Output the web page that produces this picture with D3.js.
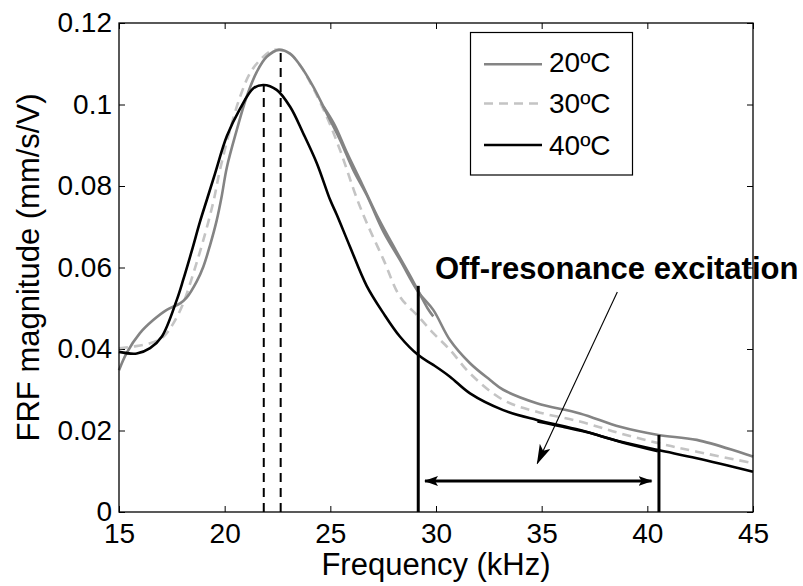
<!DOCTYPE html>
<html>
<head>
<meta charset="utf-8">
<script src="https://cdn.jsdelivr.net/npm/d3@7"></script>
<style>
  html, body { margin: 0; padding: 0; background: #fff; }
  svg { display: block; font-family: "Liberation Sans", Arial, Helvetica, sans-serif; }
</style>
</head>
<body>
<svg id="chart" width="803" height="586"></svg>
<script>
// Frequency response magnitude at three temperatures (kHz, mm/s/V)
const freq20 = [15.00, 15.36, 15.99, 16.62, 17.26, 17.89, 18.20, 18.68, 18.99, 19.31, 19.62, 19.86, 20.10, 20.57, 21.04, 21.52, 21.99, 22.57, 23.09, 23.56, 24.19, 24.83, 25.46, 26.09, 26.72, 27.51, 28.30, 29.16, 29.87, 30.66, 31.61, 32.56, 33.18, 34.77, 36.81, 38.71, 40.52, 42.34, 45.00];
const mag20  = [0.0348, 0.0390, 0.0439, 0.0471, 0.0496, 0.0512, 0.0526, 0.0566, 0.0602, 0.0655, 0.0715, 0.0775, 0.0845, 0.0937, 0.1019, 0.1080, 0.1117, 0.1134, 0.1125, 0.1097, 0.1044, 0.0978, 0.0913, 0.0839, 0.0778, 0.0688, 0.0618, 0.0540, 0.0496, 0.0422, 0.0365, 0.0324, 0.0300, 0.0267, 0.0242, 0.0209, 0.0189, 0.0177, 0.0136];
// second 20ºC band overlapping 24.7–29.9 kHz
const freq20b = [24.67, 25.20, 25.80, 26.50, 27.30, 28.10, 28.90, 29.60, 29.87];
const mag20b  = [0.0995, 0.0950, 0.0880, 0.0805, 0.0718, 0.0642, 0.0568, 0.0500, 0.0480];

const freq30 = [15.00, 15.68, 16.47, 17.10, 17.57, 18.04, 18.52, 18.99, 19.46, 19.78, 20.25, 20.73, 21.20, 21.67, 22.14, 22.57, 23.09, 23.56, 24.19, 24.83, 25.46, 26.25, 26.72, 27.51, 28.30, 29.16, 29.87, 30.66, 31.61, 33.18, 34.77, 36.81, 38.71, 40.52, 42.34, 45.00];
const mag30  = [0.0402, 0.0406, 0.0414, 0.0430, 0.0463, 0.0512, 0.0586, 0.0667, 0.0760, 0.0840, 0.0937, 0.1019, 0.1077, 0.1109, 0.1130, 0.1135, 0.1125, 0.1097, 0.1040, 0.0970, 0.0888, 0.0770, 0.0710, 0.0620, 0.0528, 0.0480, 0.0439, 0.0398, 0.0340, 0.0275, 0.0246, 0.0222, 0.0193, 0.0169, 0.0148, 0.0120];

const freq40 = [15.00, 15.84, 16.47, 17.02, 17.73, 18.04, 18.44, 18.83, 19.15, 19.54, 20.10, 20.73, 21.36, 21.83, 22.46, 23.09, 23.72, 24.36, 24.99, 25.30, 25.93, 26.72, 27.51, 28.30, 29.16, 29.87, 30.66, 31.61, 33.18, 34.77, 36.81, 38.71, 40.52, 42.34, 45.00];
const mag40  = [0.0393, 0.0389, 0.0402, 0.0430, 0.0520, 0.0570, 0.0640, 0.0712, 0.0765, 0.0830, 0.0922, 0.0990, 0.1040, 0.1048, 0.1036, 0.0995, 0.0929, 0.0856, 0.0766, 0.0730, 0.0651, 0.0555, 0.0488, 0.0430, 0.0385, 0.0361, 0.0332, 0.0291, 0.0250, 0.0226, 0.0201, 0.0173, 0.0152, 0.0132, 0.0099];
// second 40ºC band overlapping 34.8–40.5 kHz
const freq40b = [34.80, 36.00, 37.50, 39.00, 40.50];
const mag40b  = [0.0222, 0.0209, 0.0191, 0.0168, 0.0149];

const seriesLabels = ["20ºC", "30ºC", "40ºC"];
const xTicks = [15, 20, 25, 30, 35, 40, 45];
const yTicks = [0, 0.02, 0.04, 0.06, 0.08, 0.1, 0.12];
const yTickLabels = ["0", "0.02", "0.04", "0.06", "0.08", "0.1", "0.12"];

// resonance peaks (dashed markers)
const peakFreqs = [21.85, 22.65];
const peakMags  = [0.1048, 0.1134];
// off-resonance band limits
const bandFreqs = [29.16, 40.55];
const bandTops  = [0.0555, 0.0189];
const bandArrowFreqs = [29.48, 40.2];
const bandArrowMag = 0.0076;
const noteText = "Off-resonance excitation";
const noteAnchor = [29.95, 0.0572];
const noteArrowFrom = [38.58, 0.0540];
const noteArrowTo = [34.79, 0.0119];

const svg = d3.select("#chart");
const L = 119, R = 753, T = 23, B = 512;
const x = d3.scaleLinear().domain([15, 45]).range([L, R]);
const y = d3.scaleLinear().domain([0, 0.12]).range([B, T]);

const tickFont = 28, titleFont = 31;

// axes with inward ticks on all four sides
const gB = svg.append("g").attr("transform", `translate(0,${B})`)
  .call(d3.axisBottom(x).tickValues(xTicks).tickSize(-6).tickPadding(11).tickFormat(d3.format("d")));
const gT = svg.append("g").attr("transform", `translate(0,${T})`)
  .call(d3.axisTop(x).tickValues(xTicks).tickSize(-6).tickFormat(""));
const gL = svg.append("g").attr("transform", `translate(${L},0)`)
  .call(d3.axisLeft(y).tickValues(yTicks).tickSize(-6).tickPadding(7).tickFormat((d, i) => yTickLabels[i]));
const gR = svg.append("g").attr("transform", `translate(${R},0)`)
  .call(d3.axisRight(y).tickValues(yTicks).tickSize(-6).tickFormat(""));
[gB, gT, gL, gR].forEach(g => {
  g.select(".domain").remove();
  g.selectAll(".tick line").attr("stroke", "#000").attr("stroke-width", 1);
  g.selectAll("text").attr("fill", "#000").style("font-size", tickFont + "px")
    .style("font-family", "'Liberation Sans', Arial, sans-serif");
});
gB.selectAll("text").attr("dy", "0.71em");

const plot = svg.append("g");

const line = d3.line()
  .x(d => x(d[0])).y(d => y(d[1]))
  .curve(d3.curveCatmullRom.alpha(0.5));
const zip = (a, b) => a.map((v, i) => [v, b[i]]);

const styles = [
  { color: "#848484", dash: null, width: 2.6 },
  { color: "#c4c4c4", dash: "9,6", width: 2.6 },
  { color: "#000000", dash: null, width: 2.6 }
];

// resonance markers
peakFreqs.forEach((f, i) => {
  plot.append("line")
    .attr("x1", x(f)).attr("x2", x(f))
    .attr("y1", y(0)).attr("y2", y(peakMags[i]))
    .attr("stroke", "#000").attr("stroke-width", 2)
    .attr("stroke-dasharray", "9,6");
});

// curves
const curves = [
  [zip(freq30, mag30), styles[1]],
  [zip(freq20, mag20), styles[0]],
  [zip(freq20b, mag20b), styles[0]],
  [zip(freq40, mag40), styles[2]],
  [zip(freq40b, mag40b), styles[2]]
];
curves.forEach(([pts, s]) => {
  plot.append("path")
    .attr("d", line(pts))
    .attr("fill", "none")
    .attr("stroke", s.color)
    .attr("stroke-width", s.width)
    .attr("stroke-dasharray", s.dash)
    .attr("stroke-linejoin", "round");
});

// off-resonance band limits
bandFreqs.forEach((f, i) => {
  plot.append("line")
    .attr("x1", x(f)).attr("x2", x(f))
    .attr("y1", y(0)).attr("y2", y(bandTops[i]))
    .attr("stroke", "#000").attr("stroke-width", 3);
});

// double-headed band arrow
const defs = svg.append("defs");
defs.append("marker").attr("id", "headEnd")
  .attr("viewBox", "0 0 14 10").attr("refX", 13).attr("refY", 5)
  .attr("markerWidth", 14).attr("markerHeight", 10).attr("markerUnits", "userSpaceOnUse")
  .attr("orient", "auto")
  .append("path").attr("d", "M0,0 L14,5 L0,10 L3,5 Z").attr("fill", "#000");
defs.append("marker").attr("id", "headStart")
  .attr("viewBox", "0 0 14 10").attr("refX", 13).attr("refY", 5)
  .attr("markerWidth", 14).attr("markerHeight", 10).attr("markerUnits", "userSpaceOnUse")
  .attr("orient", "auto-start-reverse")
  .append("path").attr("d", "M0,0 L14,5 L0,10 L3,5 Z").attr("fill", "#000");
plot.append("line")
  .attr("x1", x(bandArrowFreqs[0])).attr("x2", x(bandArrowFreqs[1]))
  .attr("y1", y(bandArrowMag)).attr("y2", y(bandArrowMag))
  .attr("stroke", "#000").attr("stroke-width", 3)
  .attr("marker-start", "url(#headStart)").attr("marker-end", "url(#headEnd)");

// annotation pointer
defs.append("marker").attr("id", "thinHead")
  .attr("viewBox", "0 0 20 12").attr("refX", 19).attr("refY", 6)
  .attr("markerWidth", 20).attr("markerHeight", 12).attr("markerUnits", "userSpaceOnUse")
  .attr("orient", "auto")
  .append("path").attr("d", "M0,0 L20,6 L0,12 L5,6 Z").attr("fill", "#000");
plot.append("line")
  .attr("x1", x(noteArrowFrom[0])).attr("y1", y(noteArrowFrom[1]))
  .attr("x2", x(noteArrowTo[0])).attr("y2", y(noteArrowTo[1]))
  .attr("stroke", "#000").attr("stroke-width", 1.1)
  .attr("marker-end", "url(#thinHead)");

// annotation text
svg.append("text")
  .attr("x", x(noteAnchor[0])).attr("y", y(noteAnchor[1]))
  .attr("font-weight", "bold").style("font-size", titleFont + "px")
  .attr("fill", "#000")
  .text(noteText);

// plot box
svg.append("rect")
  .attr("x", L).attr("y", T).attr("width", R - L).attr("height", B - T)
  .attr("fill", "none").attr("stroke", "#000").attr("stroke-width", 1.3);

// legend
const lg = svg.append("g");
lg.append("rect").attr("x", 470.5).attr("y", 32.5).attr("width", 162).attr("height", 142.5)
  .attr("fill", "#fff").attr("stroke", "#000").attr("stroke-width", 1.2);
const rowY = [64.3, 103.5, 145];
const baseY = [72, 112.5, 155];
seriesLabels.forEach((lab, i) => {
  lg.append("line").attr("x1", 484).attr("x2", 542).attr("y1", rowY[i]).attr("y2", rowY[i])
    .attr("stroke", styles[i].color).attr("stroke-width", 2.4)
    .attr("stroke-dasharray", styles[i].dash);
  lg.append("text").attr("x", 549).attr("y", baseY[i])
    .style("font-size", tickFont + "px").attr("fill", "#000").text(lab);
});

// axis titles
svg.append("text")
  .attr("x", (L + R) / 2).attr("y", 575)
  .attr("text-anchor", "middle").style("font-size", titleFont + "px").attr("fill", "#000")
  .text("Frequency (kHz)");
svg.append("text")
  .attr("transform", `translate(39,${(T + B) / 2}) rotate(-90)`)
  .attr("text-anchor", "middle").style("font-size", titleFont + "px").attr("fill", "#000")
  .text("FRF magnitude (mm/s/V)");
</script>
</body>
</html>
